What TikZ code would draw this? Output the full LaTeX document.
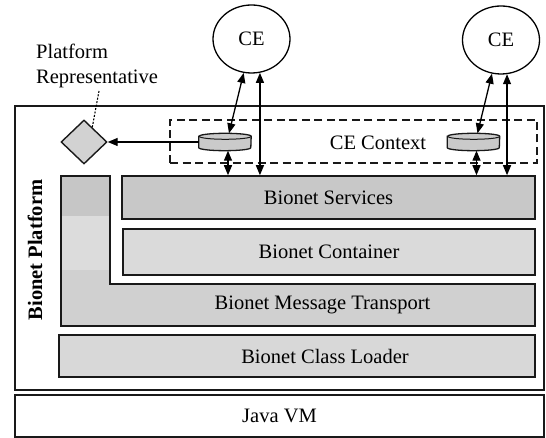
\documentclass[tikz,border=0pt]{standalone}
\usepackage{fontspec}
\setmainfont{Liberation Serif}
\usetikzlibrary{shapes.geometric,arrows.meta,calc}
\definecolor{srvgray}{HTML}{C8C8C8}
\definecolor{contgray}{HTML}{DADADA}
\definecolor{mtgray}{HTML}{D0D0D0}
\definecolor{mtdark}{HTML}{C6C6C6}
\definecolor{mtlight}{HTML}{DCDCDC}
\definecolor{clgray}{HTML}{D8D8D8}
\definecolor{diagray}{HTML}{D2D2D2}
\definecolor{cylgray}{HTML}{CACACA}
\begin{document}
\begin{tikzpicture}[x=1pt,y=1pt,
  lbl/.style={font=\fontsize{20.5}{25}\selectfont, inner sep=0pt},
  layer/.style={draw=black!90, line width=1.5pt, inner sep=0pt},
  tip/.style={-{Triangle[length=10pt,width=8pt]}},
  arr/.style={line width=1.3pt, {Triangle[length=10pt,width=8pt]}-{Triangle[length=10pt,width=8pt]}},
  cebox/.style={ellipse, draw, line width=1.3pt, minimum width=77pt, minimum height=68pt, inner sep=0pt, font=\fontsize{20.5}{25}\selectfont},
  cylbox/.style={rectangle, minimum width=52pt, minimum height=17pt, inner sep=0pt},
]
\useasboundingbox (0,0) rectangle (546,438);

% outer boxes
\node[draw=black!90, line width=1.3pt, minimum width=529pt, minimum height=284pt, inner sep=0pt] (plat) at (279.5,190) {};
\node[draw=black!90, line width=1.5pt, minimum width=529pt, minimum height=42pt, lbl] (jvm) at (279.5,22) {Java VM};

% layers
\node[layer, lbl, fill=srvgray, minimum width=413pt, minimum height=43pt] (srv) at (328.5,240.5) {Bionet Services};
\node[layer, lbl, fill=contgray, minimum width=412pt, minimum height=46pt] (cont) at (329,186) {Bionet Container};

\begin{scope}
  \clip (61,262) -- (110,262) -- (110,154) -- (535,154) -- (535,112) -- (61,112) -- cycle;
  \fill[mtgray] (61,112) rectangle (535,262);
  \fill[mtdark] (61,222) rectangle (110,262);
  \fill[mtlight] (61,168) rectangle (110,222);
\end{scope}
\draw[draw=black!90, line width=1.5pt] (61,262) -- (110,262) -- (110,154) -- (535,154) -- (535,112) -- (61,112) -- cycle;
\node[lbl] (mtt) at (322.5,133) {Bionet Message Transport};

\node[layer, fill=clgray, minimum width=476pt, minimum height=42pt] (cl) at (297,82) {};
\node[lbl] (clt) at (325,82) {Bionet Class Loader};

\node[lbl, font=\fontsize{20.5}{25}\selectfont\bfseries, rotate=90] (bp) at (35,188) {Bionet Platform};

% CE context
\node[draw=black!90, dash pattern=on 8pt off 4.5pt, line width=1.3pt, minimum width=367pt, minimum height=43pt, inner sep=0pt] (ctx) at (353.5,296.5) {};
\node[lbl] (ctxt) at (378,295) {CE Context};

% CE nodes
\node[cebox] (ce1) at (251.5,399) {CE};
\node[cebox] (ce2) at (501,398) {CE};

% platform representative
\node[lbl, align=left, anchor=west] (prtext) at (36,372.5) {Platform\\Representative};
\node[diamond, draw=black!90, line width=1.4pt, fill=diagray, minimum width=46pt, minimum height=44pt, inner sep=0pt] (dia) at (84,296) {};
\coordinate (prend) at (99,347);
\draw[line width=1.1pt, dash pattern=on 2pt off 1.5pt] ($(dia.north)!0.35!(dia.east)$) -- (prend);

% cylinders
\node[cylbox] (cyl1) at (225,296) {};
\node[cylbox] (cyl2) at (473.5,296) {};
\foreach \c in {cyl1,cyl2}{
  \filldraw[fill=cylgray, draw=black!90, line width=1.3pt]
    ($(\c.north west)+(0,-3)$) -- ($(\c.south west)+(0,3)$)
    arc[start angle=180, end angle=360, x radius=26pt, y radius=3pt]
    -- ($(\c.north east)+(0,-3)$)
    arc[start angle=0, end angle=180, x radius=26pt, y radius=3pt] -- cycle;
  \draw[black!90, line width=1.0pt] ($(\c.north east)+(0,-3)$)
    arc[start angle=0, end angle=-180, x radius=26pt, y radius=3pt];
}

% arrows
\draw[line width=1.3pt, tip] (cyl1.west) -- (dia.east);

\coordinate (c1t) at ($(cyl1.north)+(4,0)$);
\coordinate (c1b) at ($(cyl1.south)+(3,0)$);
\coordinate (c2t) at ($(cyl2.north)+(4,0)$);
\coordinate (c2b) at ($(cyl2.south)+(3,0)$);

\draw[arr] (ce1.257) -- (c1t);
\draw[arr] (ce1.284) -- (ce1.284 |- srv.north);
\draw[arr] (c1b) -- (c1b |- srv.north);

\draw[arr] (ce2.255) -- (c2t);
\draw[arr] (ce2.280) -- (ce2.280 |- srv.north);
\draw[arr] (c2b) -- (c2b |- srv.north);
\end{tikzpicture}
\end{document}
